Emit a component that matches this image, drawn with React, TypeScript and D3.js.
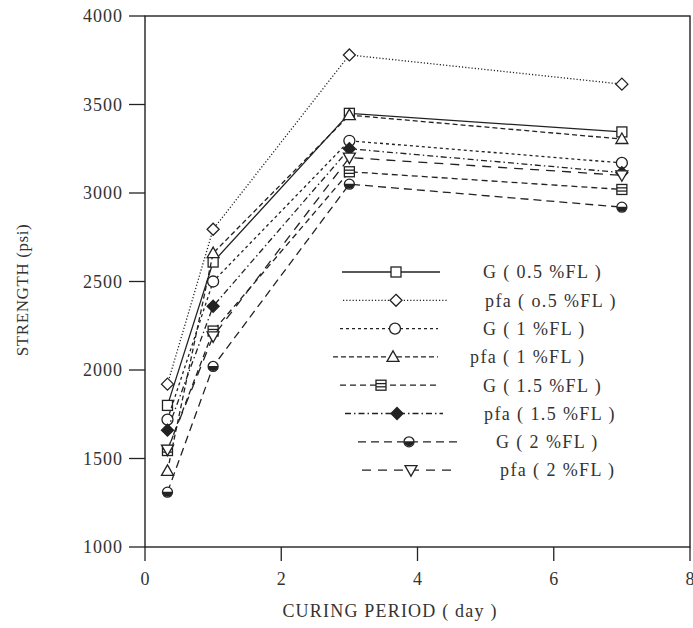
import * as d3 from "d3";
import React from "react";

// curing period (days)
const days = [0.33, 1, 3, 7];

// strength (psi) for each mix
const g05 = [1800, 2610, 3450, 3345];
const pfa05 = [1920, 2795, 3780, 3615];
const g1 = [1720, 2500, 3295, 3170];
const pfa1 = [1430, 2660, 3440, 3305];
const g15 = [1545, 2220, 3120, 3020];
const pfa15 = [1660, 2360, 3250, 3115];
const g2 = [1310, 2020, 3050, 2920];
const pfa2 = [1550, 2190, 3200, 3100];

const labels = [
  "G ( 0.5 %FL )",
  "pfa ( o.5 %FL )",
  "G ( 1 %FL )",
  "pfa ( 1 %FL )",
  "G ( 1.5 %FL )",
  "pfa ( 1.5 %FL )",
  "G ( 2 %FL )",
  "pfa ( 2 %FL )",
];

const xTicks = [0, 2, 4, 6, 8];
const yTicks = [1000, 1500, 2000, 2500, 3000, 3500, 4000];

const seriesValues = [g05, pfa05, g1, pfa1, g15, pfa15, g2, pfa2];
const markers = ["square", "diamond", "circle", "triUp", "squareLines", "diamondFilled", "halfCircle", "triDown"];
const dashes = ["", "1.2,2", "3,3", "5,3", "6,4", "6,3,1.5,3", "8,5", "9,7"];

// legend placement: line start, line end, marker x, text x
const legendPos = [
  [342, 440, 396, 483],
  [343, 447, 396, 485],
  [340, 438, 395, 483],
  [333, 438, 393, 470],
  [340, 438, 381, 483],
  [345, 443, 397, 484],
  [358, 457, 409, 496],
  [362, 455, 411, 500],
];
const legendTop = 272;
const legendStep = 28.3;

const W = 693;
const H = 628;
const margin = { left: 145, right: 3, top: 16, bottom: 81 };
const font = "'Liberation Serif', 'DejaVu Serif', serif";
const ink = "#222";

function Marker({ type, x, y }: { type: string; x: number; y: number }) {
  const st = { stroke: ink, strokeWidth: 1.3 };
  switch (type) {
    case "square":
      return <rect x={x - 5} y={y - 5} width={10} height={10} fill="white" {...st} />;
    case "diamond":
      return <path d={`M${x},${y - 6}L${x + 6},${y}L${x},${y + 6}L${x - 6},${y}Z`} fill="white" {...st} />;
    case "diamondFilled":
      return <path d={`M${x},${y - 6}L${x + 6},${y}L${x},${y + 6}L${x - 6},${y}Z`} fill={ink} {...st} />;
    case "circle":
      return <circle cx={x} cy={y} r={5.5} fill="white" {...st} />;
    case "triUp":
      return <path d={`M${x},${y - 6}L${x + 6},${y + 4.5}L${x - 6},${y + 4.5}Z`} fill="white" {...st} />;
    case "triDown":
      return <path d={`M${x},${y + 6}L${x + 6},${y - 4.5}L${x - 6},${y - 4.5}Z`} fill="white" {...st} />;
    case "squareLines":
      return (
        <g>
          <rect x={x - 5} y={y - 5} width={10} height={10} fill="white" {...st} />
          <line x1={x - 5} x2={x + 5} y1={y - 1.6} y2={y - 1.6} {...st} />
          <line x1={x - 5} x2={x + 5} y1={y + 1.6} y2={y + 1.6} {...st} />
        </g>
      );
    case "halfCircle":
      return (
        <g>
          <circle cx={x} cy={y} r={5} fill="white" {...st} />
          <path d={`M${x - 5},${y - 0.5}A5,5 0 0,0 ${x + 5},${y - 0.5}Z`} fill={ink} />
        </g>
      );
    default:
      return null;
  }
}

export default function App() {
  const x = d3.scaleLinear().domain([0, 8]).range([margin.left, W - margin.right]);
  const y = d3.scaleLinear().domain([1000, 4000]).range([H - margin.bottom, margin.top]);
  const line = d3
    .line<number>()
    .x((_, i) => x(days[i]))
    .y((d) => y(d));

  const x0 = x(0), x1 = x(8), y0 = y(1000), y1 = y(4000);

  return (
    <svg
      width={W}
      height={H}
      style={{ position: "absolute", left: 0, top: 0, background: "white" }}
      fontFamily={font}
    >
      {/* frame */}
      <rect x={x0} y={y1} width={x1 - x0} height={y0 - y1} fill="none" stroke={ink} strokeWidth={1.4} />

      {/* y ticks */}
      {yTicks.map((t) => (
        <g key={"y" + t}>
          <line x1={x0 - 16} x2={x0} y1={y(t)} y2={y(t)} stroke={ink} strokeWidth={1.3} />
          <text x={x0 - 22} y={y(t)} dy="0.35em" textAnchor="end" fontSize={18} fill="#333" letterSpacing={1}>
            {t}
          </text>
        </g>
      ))}

      {/* x ticks */}
      {xTicks.map((t) => (
        <g key={"x" + t}>
          <line x1={x(t)} x2={x(t)} y1={y0} y2={y0 + 14} stroke={ink} strokeWidth={1.3} />
          <text x={x(t)} y={y0 + 38} textAnchor="middle" fontSize={18} fill="#333">
            {t}
          </text>
        </g>
      ))}

      {/* axis titles */}
      <text x={390} y={617} textAnchor="middle" fontSize={18} fill="#333" letterSpacing={1.2}>
        CURING PERIOD ( day )
      </text>
      <text
        transform={`translate(28,${290}) rotate(-90)`}
        textAnchor="middle"
        fontSize={17}
        fill="#333"
        letterSpacing={0.6}
      >
        STRENGTH (psi)
      </text>

      {/* series */}
      {seriesValues.map((vals, s) => (
        <g key={"s" + s}>
          <path d={line(vals) || ""} fill="none" stroke={ink} strokeWidth={1.3} strokeDasharray={dashes[s]} />
          {vals.map((v, i) => (
            <Marker key={i} type={markers[s]} x={x(days[i])} y={y(v)} />
          ))}
        </g>
      ))}

      {/* legend */}
      {labels.map((lab, s) => {
        const [lx1, lx2, mx, tx] = legendPos[s];
        const ly = legendTop + s * legendStep;
        return (
          <g key={"l" + s}>
            <line x1={lx1} x2={lx2} y1={ly} y2={ly} stroke={ink} strokeWidth={1.3} strokeDasharray={dashes[s]} />
            <Marker type={markers[s]} x={mx} y={ly} />
            <text x={tx} y={ly} dy="0.35em" fontSize={18} fill="#333" letterSpacing={1.4}>
              {lab}
            </text>
          </g>
        );
      })}
    </svg>
  );
}
